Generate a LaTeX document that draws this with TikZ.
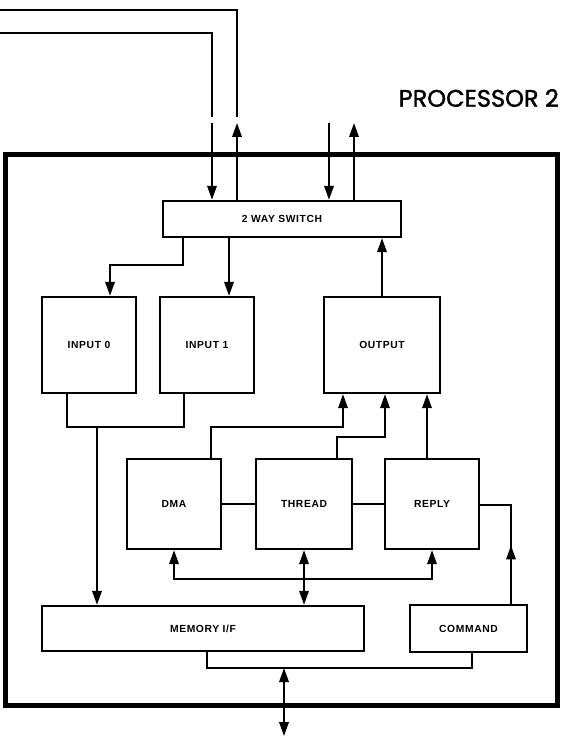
\documentclass[tikz,border=0pt]{standalone}
\usepackage{fontspec}
\setmainfont{Liberation Sans}
\newfontfamily\titlefont{Poppins}[FakeBold=1.6]
\newfontfamily\lblfont{Liberation Sans}[LetterSpace=6]
\usetikzlibrary{arrows.meta,decorations.markings,calc}
\begin{document}
\begin{tikzpicture}[x=1pt,y=-1pt]
\tikzset{
 blk/.style={draw, line width=2.4pt, inner sep=0pt, font=\lblfont\fontsize{10.3}{12}\selectfont\bfseries, align=center},
 wire/.style={line width=1.9pt},
 arr/.style={wire, -{Triangle[length=14pt,width=9.5pt]}},
 darr/.style={wire, {Triangle[length=14pt,width=9.5pt]}-{Triangle[length=14pt,width=9.5pt]}},
 midarrow/.style={postaction={decorate}, decoration={markings, mark=at position #1 with {\arrow{Triangle[length=14pt,width=9.5pt]}}}},
}
\useasboundingbox (0,0) rectangle (560,738);
% outer frame
\draw[line width=5pt] (5.5,155) rectangle (557.5,705);
% title
\node[anchor=east, inner sep=0pt, font=\titlefont\fontsize{24}{27}\selectfont] (title) at (559,98) {PROCESSOR 2};
% blocks
\node[blk, minimum width=238pt, minimum height=36pt] (sw) at (282,219) {2 WAY SWITCH};
\node[blk, minimum width=94pt, minimum height=96pt] (in0) at (89,345) {INPUT 0};
\node[blk, minimum width=94pt, minimum height=96pt] (in1) at (207,345) {INPUT 1};
\node[blk, minimum width=116pt, minimum height=96pt] (out) at (382,345) {OUTPUT};
\node[blk, minimum width=94pt, minimum height=90pt] (dma) at (174,504) {DMA};
\node[blk, minimum width=96pt, minimum height=90pt] (thr) at (304,504) {THREAD};
\node[blk, minimum width=94pt, minimum height=90pt] (rep) at (432,504) {REPLY};
\node[blk, minimum width=322pt, minimum height=45pt] (mem) at (203,628.5) {MEMORY I/F};
\node[blk, minimum width=117pt, minimum height=47pt] (cmd) at (468.5,628.5) {COMMAND};
% external links at top
\coordinate (eIn) at (0,33); \coordinate (eInG) at (212,117); \coordinate (eInR) at (212,123);
\draw[wire] (eIn) -| (eInG);
\draw[arr] (eInR) -- (eInR |- sw.north);
\coordinate (eOut) at (0,10); \coordinate (eOutG) at (237,117); \coordinate (eOutT) at (237,123);
\draw[wire] (eOut) -| (eOutG);
\draw[arr] (eOutT |- sw.north) -- (eOutT);
\coordinate (rIn) at (329,123); \coordinate (rOut) at (354,123);
\draw[arr] (rIn) -- (rIn |- sw.north);
\draw[arr] (rOut |- sw.north) -- (rOut);
% switch to inputs, output to switch
\coordinate (s0) at (183,265);
\draw[arr] (s0 |- sw.south) -- (s0) -| ([xshift=21pt]in0.north);
\draw[arr] ([xshift=22pt]in1.north |- sw.south) -- ([xshift=22pt]in1.north);
\draw[arr] (out.north) -- (out.north |- sw.south);
% inputs to memory
\coordinate (j) at (0,427); \coordinate (m0) at (97,427);
\draw[wire] ([xshift=-22pt]in0.south) |- ([xshift=-23pt]in1.south |- j) -- ([xshift=-23pt]in1.south);
\draw[arr] (m0) -- (m0 |- mem.north);
% to output
\coordinate (d1) at (211,427);
\draw[arr] (d1 |- dma.north) -- (d1) -| ([xshift=-39pt]out.south);
\coordinate (t1) at (337,437);
\draw[arr] (t1 |- thr.north) -- (t1) -| ([xshift=3pt]out.south);
\coordinate (r1) at (427,0);
\draw[arr] (r1 |- rep.north) -- (r1 |- out.south);
% horizontal links
\draw[wire] (dma.east) -- (thr.west);
\draw[wire] (thr.east) -- (rep.west);
% bus
\coordinate (bus) at (0,579);
\draw[darr] (dma.south) -- (dma.south |- bus) -- (rep.south |- bus) -- (rep.south);
\draw[darr] (thr.south) -- (thr.south |- mem.north);
% command to reply
\coordinate (c1) at (511,505);
\draw[wire, midarrow=0.45] (c1 |- cmd.north) -- (c1) -- (c1 -| rep.east);
% bottom
\coordinate (b1) at (207,668);
\draw[wire] (b1 |- mem.south) -- (b1) -| ([xshift=3.5pt]cmd.south);
\coordinate (b2) at (284,668); \coordinate (b3) at (284,736);
\draw[darr] (b2) -- (b3);
\end{tikzpicture}
\end{document}
